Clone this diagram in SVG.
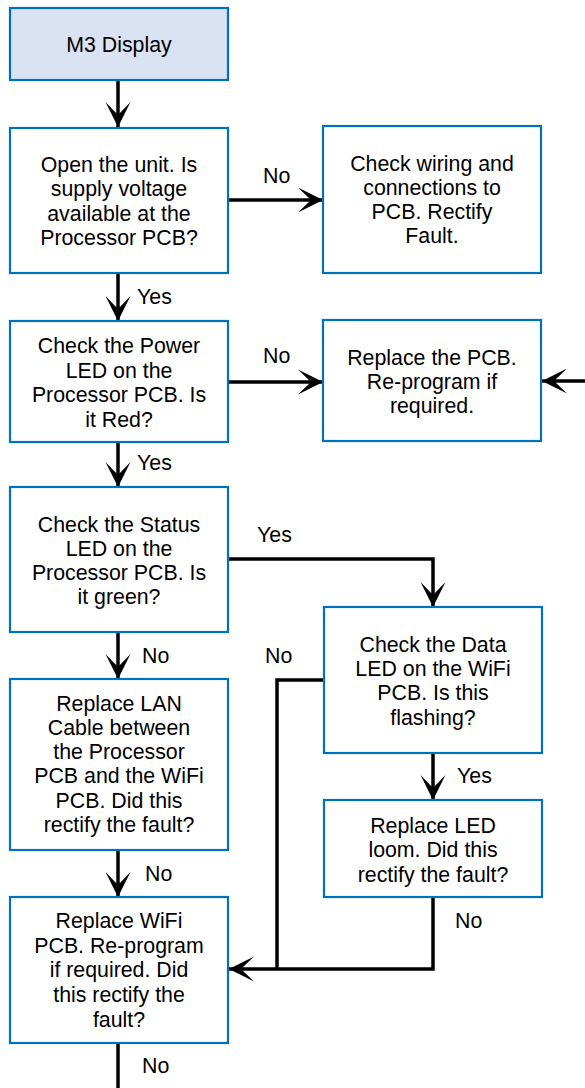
<svg xmlns="http://www.w3.org/2000/svg" width="585" height="1088" viewBox="0 0 585 1088">
<style>
.box{fill:#ffffff;stroke:#0070c0;stroke-width:2.2}
.start{fill:#dae3f3}
text{font-family:"Liberation Sans",Arial,sans-serif;font-size:21.33px;fill:#000}
.c{text-anchor:middle}
.conn path{fill:none;stroke:#000;stroke-width:3.5}
</style>
<defs>
<marker id="ah" markerUnits="userSpaceOnUse" viewBox="-26 -14 28 28" refX="0" refY="0" markerWidth="28" markerHeight="28" orient="auto">
<path d="M0,0 L-25,-12.5 L-12,0 L-25,12.5 Z" fill="#000"/>
</marker>
</defs>
<rect width="585" height="1088" fill="#fff"/>
<g id="connectors" class="conn">
<path d="M118,80 V127" marker-end="url(#ah)"/>
<path d="M228,200 H323" marker-end="url(#ah)"/>
<path d="M118,273 V321" marker-end="url(#ah)"/>
<path d="M228,382 H323" marker-end="url(#ah)"/>
<path d="M585,381 H542" marker-end="url(#ah)"/>
<path d="M118,442 V487" marker-end="url(#ah)"/>
<path d="M228,559 H433 V607" marker-end="url(#ah)"/>
<path d="M118,632 V679" marker-end="url(#ah)"/>
<path d="M324,680 H277 V969"/>
<path d="M433,897 V969 H229" marker-end="url(#ah)"/>
<path d="M433,753 V800" marker-end="url(#ah)"/>
<path d="M118,850 V897" marker-end="url(#ah)"/>
<path d="M118,1043 V1088"/>
<text x="263" y="183">No</text>
<text x="137" y="304">Yes</text>
<text x="263" y="363">No</text>
<text x="137" y="470">Yes</text>
<text x="257" y="542">Yes</text>
<text x="142" y="663">No</text>
<text x="265" y="663">No</text>
<text x="457" y="783">Yes</text>
<text x="145" y="881">No</text>
<text x="455" y="928">No</text>
<text x="142" y="1073">No</text>
</g>
<g id="n1">
<rect class="box start" x="10" y="8" width="218" height="72"/>
<text class="c" x="119" y="52">M3 Display</text>
</g>
<g id="n2">
<rect class="box" x="10" y="128" width="218" height="145"/>
<text class="c" x="119" y="172">Open the unit. Is</text>
<text class="c" x="119" y="196">supply voltage</text>
<text class="c" x="119" y="221">available at the</text>
<text class="c" x="119" y="245">Processor PCB?</text>
</g>
<g id="n3">
<rect class="box" x="323" y="126" width="218" height="147"/>
<text class="c" x="432" y="171">Check wiring and</text>
<text class="c" x="432" y="195">connections to</text>
<text class="c" x="432" y="219">PCB. Rectify</text>
<text class="c" x="432" y="243">Fault.</text>
</g>
<g id="n4">
<rect class="box" x="10" y="321" width="218" height="121"/>
<text class="c" x="119" y="353">Check the Power</text>
<text class="c" x="119" y="378">LED on the</text>
<text class="c" x="119" y="402">Processor PCB. Is</text>
<text class="c" x="119" y="427">it Red?</text>
</g>
<g id="n5">
<rect class="box" x="323" y="320" width="218" height="121"/>
<text class="c" x="432" y="365">Replace the PCB.</text>
<text class="c" x="432" y="389">Re-program if</text>
<text class="c" x="432" y="413">required.</text>
</g>
<g id="n6">
<rect class="box" x="10" y="487" width="218" height="145"/>
<text class="c" x="119" y="532">Check the Status</text>
<text class="c" x="119" y="556">LED on the</text>
<text class="c" x="119" y="580">Processor PCB. Is</text>
<text class="c" x="119" y="604">it green?</text>
</g>
<g id="n7">
<rect class="box" x="324" y="607" width="218" height="146"/>
<text class="c" x="433" y="652">Check the Data</text>
<text class="c" x="433" y="676">LED on the WiFi</text>
<text class="c" x="433" y="700">PCB. Is this</text>
<text class="c" x="433" y="725">flashing?</text>
</g>
<g id="n8">
<rect class="box" x="10" y="679" width="218" height="171"/>
<text class="c" x="119" y="711">Replace LAN</text>
<text class="c" x="119" y="735">Cable between</text>
<text class="c" x="119" y="759">the Processor</text>
<text class="c" x="119" y="783">PCB and the WiFi</text>
<text class="c" x="119" y="808">PCB. Did this</text>
<text class="c" x="119" y="832">rectify the fault?</text>
</g>
<g id="n9">
<rect class="box" x="324" y="800" width="218" height="97"/>
<text class="c" x="433" y="833">Replace LED</text>
<text class="c" x="433" y="857">loom. Did this</text>
<text class="c" x="433" y="882">rectify the fault?</text>
</g>
<g id="n10">
<rect class="box" x="10" y="897" width="218" height="146"/>
<text class="c" x="119" y="928">Replace WiFi</text>
<text class="c" x="119" y="953">PCB. Re-program</text>
<text class="c" x="119" y="977">if required. Did</text>
<text class="c" x="119" y="1002">this rectify the</text>
<text class="c" x="119" y="1027">fault?</text>
</g>
</svg>
